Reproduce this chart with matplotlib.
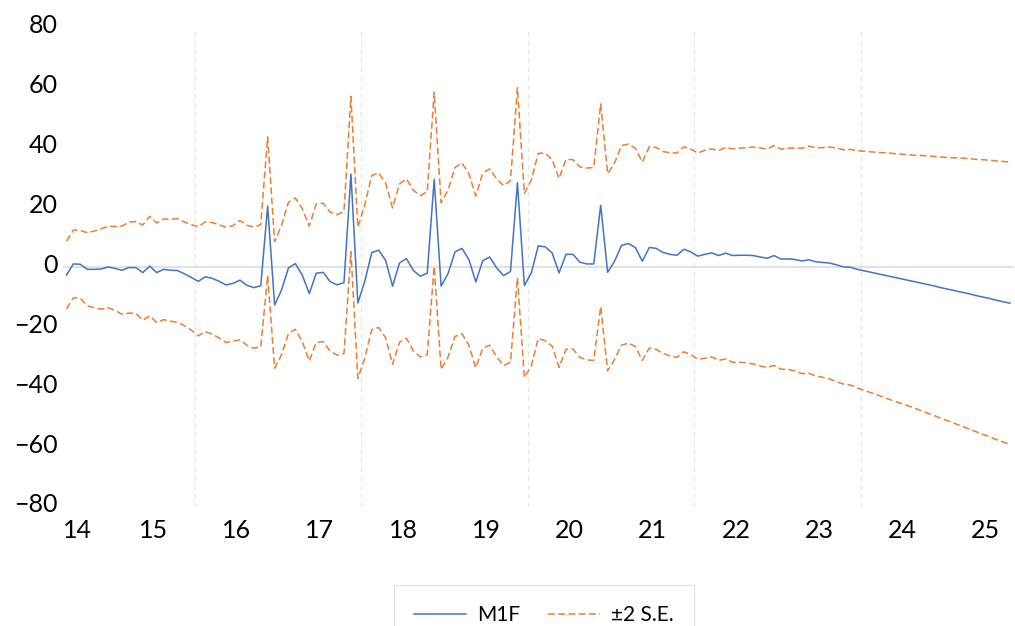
import numpy as np
import pandas as pd
import matplotlib
matplotlib.use("Agg")
import matplotlib.pyplot as plt
from matplotlib.transforms import ScaledTranslation

# monthly observations, Jun 2014 .. Oct 2025
months = pd.date_range("2014-06-01", periods=137, freq="MS")

m1f = [-2.6, 1.1, 1.0, -0.7, -0.7, -0.6, 0.1, -0.4, -1.0, -0.1,
       -0.1, -1.8, 0.4, -1.8, -0.7, -1.0, -1.1, -2.2, -3.4, -4.7,
       -3.2, -3.7, -4.7, -5.9, -5.4, -4.3, -6.0, -6.8, -6.2, 20.4,
       -12.6, -7.6, -0.2, 1.2, -2.7, -8.8, -2.0, -1.7, -4.8, -5.9,
       -5.1, 31.1, -11.9, -4.7, 4.9, 5.7, 2.3, -6.3, 1.4, 2.9,
       -1.1, -3.0, -2.0, 29.3, -6.3, -2.1, 5.1, 6.3, 2.6, -4.9,
       2.2, 3.4, -0.2, -2.8, -1.4, 28.2, -6.1, -1.9, 7.1, 6.8,
       4.8, -1.9, 4.3, 4.3, 1.7, 1.1, 1.1, 20.7, -1.7, 2.0,
       7.3, 7.9, 6.6, 2.0, 6.6, 6.3, 4.9, 4.3, 4.0, 6.0,
       5.1, 3.7, 4.3, 4.8, 3.9, 4.7, 3.9, 4.0, 4.0, 3.9,
       3.4, 3.0, 3.9, 2.7, 2.8, 2.6, 2.1, 2.5, 1.8, 1.6,
       1.4, 0.8, 0.1, 0.0, -0.7, -1.2, -1.7, -2.2, -2.7, -3.2,
       -3.7, -4.2, -4.7, -5.2, -5.7, -6.2, -6.8, -7.3, -7.8, -8.3,
       -8.8, -9.4, -9.9, -10.4, -11.0, -11.5, -12.0]

# two standard errors (half width of the band)
se2 = [11.3, 11.3, 11.3, 12.2, 12.8, 13.4, 13.6, 14.0, 14.7, 15.2,
       15.3, 15.9, 16.6, 16.6, 16.8, 17.0, 17.3, 17.3, 17.6, 18.2,
       18.3, 18.6, 18.9, 19.2, 19.3, 19.9, 20.0, 20.2, 20.4, 23.1,
       21.1, 21.6, 21.9, 21.9, 22.2, 22.5, 23.1, 23.1, 23.2, 23.4,
       23.7, 25.9, 25.2, 25.6, 25.7, 25.8, 25.8, 26.1, 26.4, 26.6,
       26.8, 26.9, 27.2, 29.1, 27.8, 27.9, 28.2, 28.5, 28.6, 28.7,
       29.2, 29.4, 29.7, 30.0, 30.3, 31.7, 30.7, 31.0, 30.9, 31.3,
       31.1, 31.5, 31.7, 31.6, 31.8, 32.0, 32.2, 33.8, 32.9, 32.8,
       33.3, 33.2, 33.1, 33.1, 33.6, 33.7, 33.7, 33.9, 34.1, 34.2,
       34.3, 34.4, 34.7, 34.7, 35.0, 35.3, 35.6, 35.7, 35.9, 36.2,
       36.4, 36.4, 36.7, 36.7, 36.9, 37.2, 37.6, 37.9, 38.1, 38.3,
       38.7, 39.0, 39.1, 39.3, 39.6, 39.9, 40.2, 40.5, 40.9, 41.2,
       41.5, 41.8, 42.1, 42.5, 42.9, 43.2, 43.6, 43.9, 44.3, 44.7,
       45.1, 45.4, 45.8, 46.1, 46.5, 46.8, 47.1]

year_labels = ["14", "15", "16", "17", "18", "19", "20", "21", "22", "23", "24", "25"]

plt.rcParams["font.family"] = ["Lato", "DejaVu Sans"]

m = np.array(m1f)
w = np.array(se2)
x = np.arange(len(months))

fig = plt.figure(figsize=(10.15, 6.26), dpi=100)
ax = fig.add_axes([63 / 1015, 119 / 626, 950.5 / 1015, 479.5 / 626])

ax.axhline(0, color="#D9D9D9", lw=1.1, zorder=1)

# gridlines at the start of every second year
jan = x[(months.month == 1)]
for j in jan[months[jan].year % 2 == 0]:
    ax.axvline(j - 0.5, color="#E3E3E3", lw=0.8, dashes=(4, 4), zorder=0)

ax.plot(x, m, color="#4472C4", lw=1.1, label="M1F", zorder=3)
ax.plot(x, m + w, color="#ED7D31", lw=1.1, dashes=(4.5, 2.2), label="±2 S.E.", zorder=2)
ax.plot(x, m - w, color="#ED7D31", lw=1.1, dashes=(4.5, 2.2), label="_nolegend_", zorder=2)

ax.set_xlim(-0.5, len(months) - 0.5)
ax.set_ylim(-80, 80)
ax.set_yticks(np.arange(-80, 81, 20))

# year labels centred on each year, first one clamped to the plot edge
ticks = [-0.5] + [(j + 5.5) for j in jan]
ax.set_xticks(ticks)
ax.set_xticklabels(year_labels)
ax.get_xticklabels()[0].set_horizontalalignment("left")

ax.tick_params(axis="both", length=0, labelsize=18, colors="black")
ax.tick_params(axis="x", pad=9)
ax.tick_params(axis="y", pad=4)
for lab in ax.get_yticklabels():
    lab.set_transform(lab.get_transform() + ScaledTranslation(0, 0.04, fig.dpi_scale_trans))

for s in ax.spines.values():
    s.set_visible(False)

leg = fig.legend(loc="upper center", bbox_to_anchor=(544 / 1015, 41 / 626), ncol=2,
                 fontsize=15, frameon=True, fancybox=False, edgecolor="#D9D9D9",
                 handlelength=2.5, handletextpad=0.55, columnspacing=1.3,
                 borderpad=0.95, borderaxespad=0)
leg.get_frame().set_linewidth(0.8)

fig.savefig("out.png", dpi=100)
